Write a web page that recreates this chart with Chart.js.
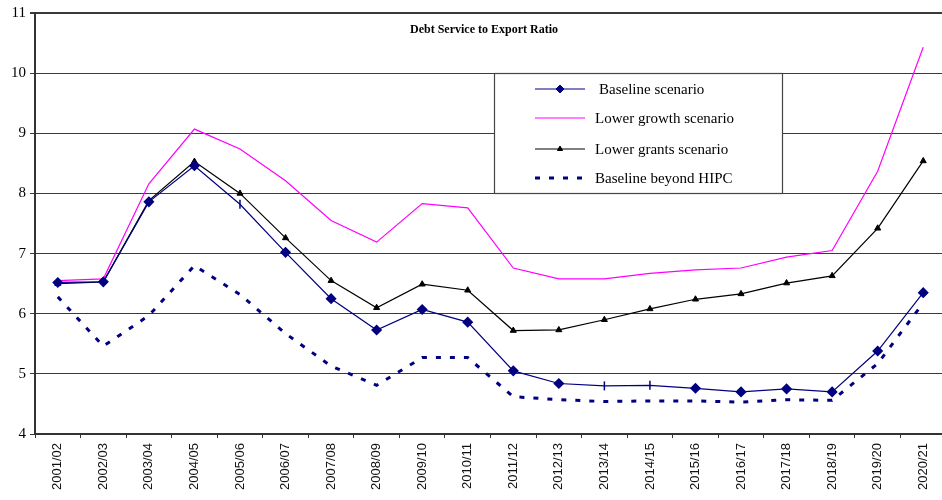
<!DOCTYPE html>
<html>
<head>
<meta charset="utf-8">
<script src="https://cdn.jsdelivr.net/npm/chart.js@4.4.1/dist/chart.umd.min.js"></script>
<style>
  html, body { margin: 0; padding: 0; background: #fff; overflow: hidden; width: 942px; height: 500px; }
  #wrap { width: 952px; height: 500px; position: relative; }
</style>
</head>
<body>
<div id="wrap"><canvas id="c"></canvas></div>
<script>
// Fiscal years on the horizontal axis
const years = ['2001/02','2002/03','2003/04','2004/05','2005/06','2006/07','2007/08','2008/09','2009/10','2010/11',
               '2011/12','2012/13','2013/14','2014/15','2015/16','2016/17','2017/18','2018/19','2019/20','2020/21'];

// Debt service to export ratio, by scenario (percent)
const baseline      = [6.52, 6.53, 7.86, 8.46, 7.82, 7.02, 6.25, 5.73, 6.07, 5.86, 5.05, 4.84, 4.80, 4.81, 4.76, 4.70, 4.75, 4.70, 5.38, 6.35];
const lowerGrowth   = [6.55, 6.58, 8.16, 9.07, 8.74, 8.21, 7.55, 7.19, 7.83, 7.76, 6.76, 6.58, 6.58, 6.67, 6.73, 6.76, 6.94, 7.05, 8.37, 10.43];
const lowerGrants   = [6.50, 6.53, 7.88, 8.53, 8.00, 7.26, 6.55, 6.10, 6.49, 6.39, 5.72, 5.73, 5.90, 6.08, 6.24, 6.33, 6.51, 6.63, 7.42, 8.54];
const beyondHIPC    = [6.28, 5.46, 5.97, 6.80, 6.32, 5.67, 5.13, 4.81, 5.27, 5.27, 4.62, 4.57, 4.54, 4.55, 4.55, 4.53, 4.57, 4.56, 5.17, 6.18];

// Series names
const seriesNames = ['Baseline scenario', 'Lower growth scenario', 'Lower grants scenario', 'Baseline beyond HIPC'];

// Value axis ticks
const yTicks = [4, 5, 6, 7, 8, 9, 10, 11];

const NAVY = '#000080';
const SERIF = '"Liberation Serif", "Times New Roman", serif';
const SANS = '"Liberation Sans", Arial, sans-serif';

// Baseline markers: diamonds, with a few bar-shaped ones
const baseStyles = baseline.map((v, i) => (i === 4 || i === 12 || i === 13) ? 'line' : 'rectRot');
const baseRot = baseline.map((v, i) => (i === 4 || i === 12 || i === 13) ? 90 : 0);

// Title and framed legend drawn inside the plot area
const overlay = {
  id: 'overlay',
  afterDatasetsDraw(chart) {
    const { ctx, chartArea: a, scales: { y } } = chart;
    ctx.save();

    ctx.font = 'bold 12px ' + SERIF;
    ctx.fillStyle = '#000';
    ctx.textAlign = 'center';
    ctx.textBaseline = 'middle';
    ctx.fillText('Debt Service to Export Ratio', a.left + 449, a.top + 17);

    const top = Math.round(y.getPixelForValue(10));
    const bottom = Math.round(y.getPixelForValue(8));
    const left = a.left + 459, right = a.left + 747;
    ctx.fillStyle = '#fff';
    ctx.fillRect(left, top, right - left, bottom - top);
    ctx.strokeStyle = '#444';
    ctx.lineWidth = 1.2;
    ctx.strokeRect(left + 0.5, top + 0.5, right - left, bottom - top);

    const rows = [16, 45, 76, 105];
    const sx0 = left + 41, sx1 = left + 91;
    ctx.font = '15px ' + SERIF;
    ctx.textAlign = 'left';
    chart.data.datasets.forEach((ds, i) => {
      const ry = top + rows[i];
      ctx.save();
      ctx.strokeStyle = ds.borderColor;
      ctx.lineWidth = ds.borderWidth;
      ctx.setLineDash(ds.borderDash || []);
      ctx.beginPath();
      ctx.moveTo(sx0, ry);
      ctx.lineTo(sx1, ry);
      ctx.stroke();
      if (ds.pointRadius > 0) {
        ctx.setLineDash([]);
        ctx.fillStyle = ds.pointBackgroundColor;
        ctx.strokeStyle = ds.pointBorderColor;
        ctx.lineWidth = 1;
        const style = ds.label === seriesNames[0] ? 'rectRot' : 'triangle';
        Chart.helpers.drawPoint(ctx, { pointStyle: style, radius: style === 'rectRot' ? 4 : 3, borderWidth: 1 }, (sx0 + sx1) / 2, ry);
      }
      ctx.restore();
      ctx.fillStyle = '#000';
      ctx.fillText(ds.label, left + (i === 0 ? 105 : 101), ry + 1);
    });
    ctx.restore();
  }
};

const chart = new Chart(document.getElementById('c'), {
  type: 'line',
  data: {
    labels: years,
    datasets: [
      {
        label: seriesNames[0], data: baseline,
        borderColor: NAVY, backgroundColor: NAVY, borderWidth: 1.2,
        pointStyle: baseStyles, rotation: baseRot, pointRadius: 4.5, pointBorderWidth: 1.5,
        pointBorderColor: NAVY, pointBackgroundColor: NAVY, order: 1
      },
      {
        label: seriesNames[1], data: lowerGrowth,
        borderColor: '#FF00FF', backgroundColor: '#FF00FF', borderWidth: 1.2,
        pointRadius: 0, order: 3
      },
      {
        label: seriesNames[2], data: lowerGrants,
        borderColor: '#000', backgroundColor: '#000', borderWidth: 1.2,
        pointStyle: 'triangle', pointRadius: 3.5, pointBorderWidth: 1,
        pointBorderColor: '#000', pointBackgroundColor: '#000', order: 2
      },
      {
        label: seriesNames[3], data: beyondHIPC,
        borderColor: NAVY, backgroundColor: NAVY, borderWidth: 3,
        borderDash: [5, 9], pointRadius: 0, order: 4
      }
    ]
  },
  options: {
    responsive: true,
    maintainAspectRatio: false,
    animation: false,
    devicePixelRatio: 1,
    layout: { padding: { top: 11, right: 4, left: 0, bottom: 0 } },
    plugins: {
      legend: { display: false },
      title: { display: false },
      tooltip: { enabled: false }
    },
    elements: { line: { tension: 0 } },
    scales: {
      x: {
        type: 'category',
        offset: true,
        grid: { display: true, offset: true, drawOnChartArea: false, drawTicks: true, tickLength: 4, color: '#333', lineWidth: 1 },
        border: { display: true, color: '#333', width: 2 },
        ticks: {
          minRotation: 90, maxRotation: 90, autoSkip: false,
          color: '#111', padding: 5,
          font: { family: SANS, size: 13 }
        },
        afterFit(scale) { scale.height = 66; }
      },
      y: {
        min: 4, max: 11,
        afterBuildTicks(scale) { scale.ticks = yTicks.map(v => ({ value: v })); },
        grid: {
          color: '#3a3a3a',
          lineWidth: ctx => (ctx.tick && ctx.tick.value === 11) ? 2 : 1,
          drawTicks: true, tickLength: 5
        },
        border: { display: true, color: '#333', width: 2 },
        ticks: {
          color: '#000', padding: 4,
          font: { family: SERIF, size: 15 }
        },
        afterFit(scale) { scale.width = 35; }
      }
    }
  },
  plugins: [overlay]
});
</script>
</body>
</html>
